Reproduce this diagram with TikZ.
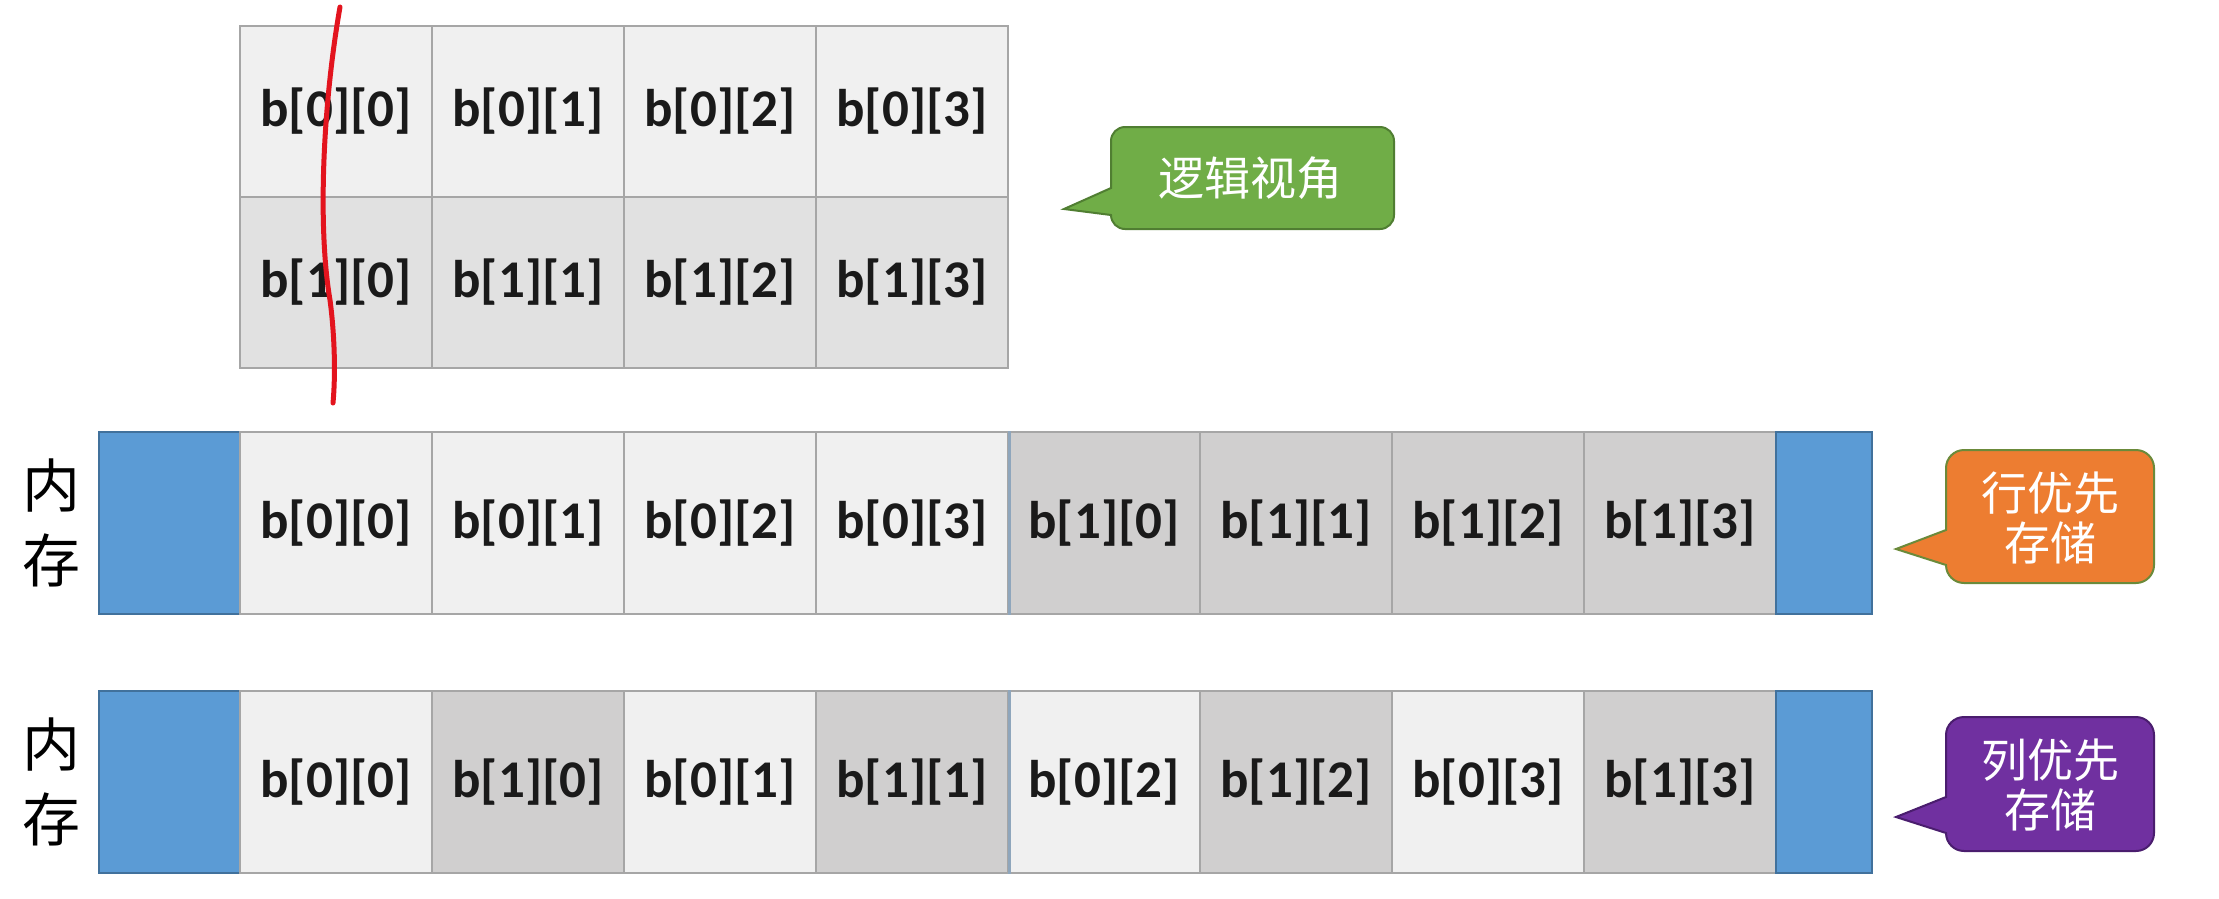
\documentclass[tikz,border=0pt]{standalone}
\usepackage{fontspec}
\newfontfamily\cellfont{Carlito}
\newfontfamily\cjk{Noto Sans CJK SC}
\definecolor{cellborder}{HTML}{A6A6A6}
\definecolor{lightA}{HTML}{F0F0F0}
\definecolor{gridB}{HTML}{E1E1E1}
\definecolor{darkC}{HTML}{D0CFCF}
\definecolor{blueF}{HTML}{5B9BD5}
\definecolor{blueD}{HTML}{41719C}
\definecolor{sepC}{HTML}{8FA6BC}
\definecolor{greenF}{HTML}{70AD47}
\definecolor{greenD}{HTML}{507E32}
\definecolor{orangeF}{HTML}{ED7D31}
\definecolor{orangeD}{HTML}{6B8A3A}
\definecolor{purpleF}{HTML}{7030A0}
\definecolor{purpleD}{HTML}{4A1D6E}
\definecolor{penred}{HTML}{E3141E}
\definecolor{txt}{HTML}{1A1A1A}
\tikzset{
  cellbox/.style={draw=cellborder, line width=2, inner sep=0, minimum width=192,
    text=txt, font=\cellfont\bfseries\fontsize{53}{60}\selectfont},
  gcell/.style={cellbox, minimum height=171},
  mcell/.style={cellbox, minimum height=182},
  bluecell/.style={draw=blueD, line width=2, fill=blueF, inner sep=0, minimum height=182},
  sepline/.style={draw=sepC, line width=3},
  memlabel/.style={align=center, text=black, font=\cjk\fontsize{58}{75}\selectfont},
  calltext/.style={align=center, text=white, font=\cjk\fontsize{46}{50}\selectfont},
  callG/.style={fill=greenF, draw=greenD, line width=2},
  callO/.style={fill=orangeF, draw=orangeD, line width=2},
  callP/.style={fill=purpleF, draw=purpleD, line width=2},
  pen/.style={draw=penred, line width=5, line cap=round},
}
\begin{document}
\begin{tikzpicture}[x=1pt,y=-1pt]
\useasboundingbox (0,0) rectangle (2219,898);
\fill[white] (0,0) rectangle (2219,898);

% logical view grid
\foreach \c in {0,...,3} {
  \node[gcell, fill=lightA] (g0\c) at ({336+192*\c},111.5) {b[0][\c]};
  \node[gcell, fill=gridB] (g1\c) at ({336+192*\c},282.5) {b[1][\c]};
}

% row-major memory
\node[memlabel] (m1) at (52,523) {内\\存};
\node[bluecell, minimum width=141] (ra-l) at (169.5,523) {};
\foreach \c in {0,...,3} {
  \node[mcell, fill=lightA] (ra\c) at ({336+192*\c},523) {b[0][\c]};
}
\foreach \c [evaluate=\c as \k using int(\c+4)] in {0,...,3} {
  \node[mcell, fill=darkC] (ra\k) at ({336+192*(\c+4)},523) {b[1][\c]};
}
\node[bluecell, minimum width=96] (ra-r) at (1824,523) {};
\draw[sepline] (ra3.north east) -- (ra3.south east);

% column-major memory
\node[memlabel] (m2) at (52,782) {内\\存};
\node[bluecell, minimum width=141] (rb-l) at (169.5,782) {};
\foreach \k/\i/\j in {0/0/0,1/1/0,2/0/1,3/1/1,4/0/2,5/1/2,6/0/3,7/1/3} {
  \ifnum\i=0
    \node[mcell, fill=lightA] (rb\k) at ({336+192*\k},782) {b[\i][\j]};
  \else
    \node[mcell, fill=darkC] (rb\k) at ({336+192*\k},782) {b[\i][\j]};
  \fi
}
\node[bluecell, minimum width=96] (rb-r) at (1824,782) {};
\draw[sepline] (rb3.north east) -- (rb3.south east);

% callouts
\draw[callG] (1250,127) [rounded corners=14] -- (1394,127) -- (1394,229) -- (1111,229) [sharp corners] -- (1111,215) -- (1064,209) -- (1111,188) [rounded corners=14] -- (1111,127) -- cycle;
\node[calltext] (tg) at (1250,178) {逻辑视角};

\draw[callO] (2050,450) [rounded corners=18] -- (2154,450) -- (2154,583) -- (1946,583) [sharp corners] -- (1946,565) -- (1896,549) -- (1946,530) [rounded corners=18] -- (1946,450) -- cycle;
\node[calltext] (to) at (2050,518) {行优先\\存储};

\draw[callP] (2050,717) [rounded corners=18] -- (2154,717) -- (2154,851) -- (1946,851) [sharp corners] -- (1946,833) -- (1896,817) -- (1946,797) [rounded corners=18] -- (1946,717) -- cycle;
\node[calltext] (tp) at (2050,785) {列优先\\存储};

% red pen stroke
\coordinate (p0) at (340,7);
\coordinate (p1) at (333,403);
\draw[pen] (p0) .. controls (322,110) and (318,230) .. (330,300) .. controls (334,330) and (336,370) .. (p1);
\end{tikzpicture}
\end{document}
